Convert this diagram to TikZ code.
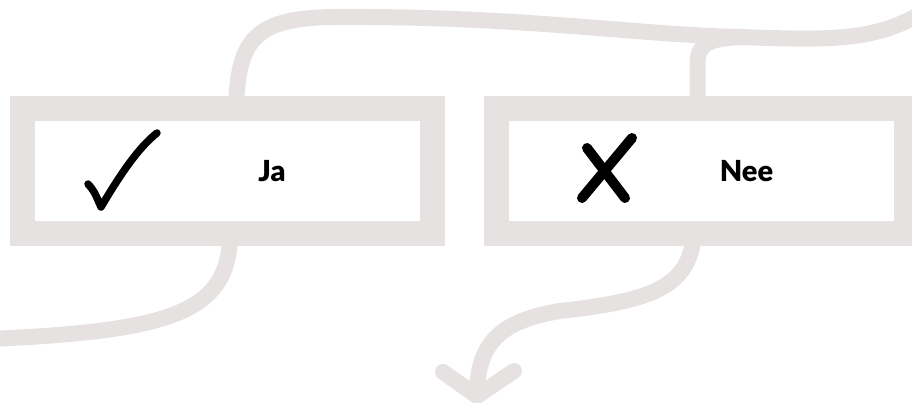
\documentclass[tikz,border=0pt]{standalone}
\usepackage{fontspec}
\newfontfamily\answerfont{Lato Black}
\usetikzlibrary{positioning,calc}
\definecolor{band}{HTML}{E6E2E1}

\begin{document}
\begin{tikzpicture}[x=1pt, y=1pt, node distance=64pt,
    optionbox/.style={draw=band, line width=25pt, minimum width=410pt, minimum height=125pt, inner sep=0pt, outer sep=0pt},
    flow/.style={draw=band, line width=16pt, line cap=round, line join=round},
    answer/.style={font=\answerfont\fontsize{29}{32}\selectfont, anchor=base, inner sep=0pt},
    tickstroke/.style={draw=black, line width=7.5pt, line cap=round, line join=round},
    crossstroke/.style={draw=black, line width=10pt, line cap=round}]
  \useasboundingbox (0,0) rectangle (912,403);
  \node[optionbox] (ja) at (227.5,232) {};
  \node[optionbox, right=of ja] (nee) {};
  \node[answer] (jatext) at (272,221) {Ja};
  \node[answer] (neetext) at (746.5,221) {Nee};
  \draw[tickstroke] (88,219) .. controls (94,212) .. (101,196) .. controls (120,228) and (138,255) .. (157,270);
  \draw[crossstroke] (587,255) -- (625,205);
  \draw[crossstroke] (632,265) -- (582,205);
  \coordinate (topexit) at (950,410);
  \coordinate (leftexit) at (-10,64);
  \coordinate (tip) at (477,7);
  \coordinate (lbarb) at (443,31);
  \coordinate (rbarb) at (514,32);
  \draw[flow] ($(ja.north)+(8.5,0)$) .. controls (238,365) and (255,386) .. (340,386)
    .. controls (520,387) and (640,368) .. (740,366)
    .. controls (850,362) and (890,362) .. (topexit);
  \draw[flow] ($(nee.north)+(-4,0)$) -- ++(0,45) .. controls (697.5,360) and (710,365) .. (745,366);
  \draw[flow] ($(ja.south)+(2.5,0)$) .. controls (230,90) and (170,72) .. (leftexit);
  \draw[flow] ($(nee.south)+(-7.5,0)$) .. controls (690,115) and (650,102) .. (560,92)
    .. controls (500,82) and (477,60) .. (tip);
  \draw[flow] (lbarb) -- (tip) -- (rbarb);
\end{tikzpicture}
\end{document}
